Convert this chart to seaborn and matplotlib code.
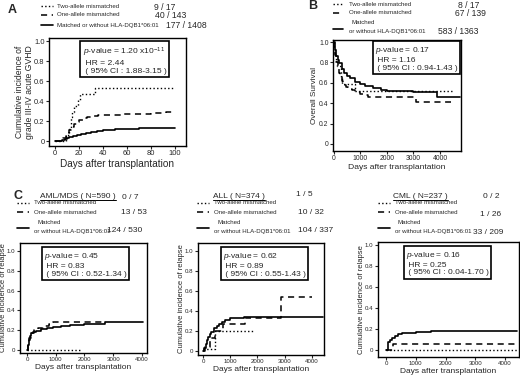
import matplotlib
matplotlib.use("Agg")
import matplotlib.pyplot as plt
import seaborn as sns
from matplotlib.lines import Line2D

sns.set_style("ticks")
plt.rcParams["font.family"] = ["Liberation Sans", "DejaVu Sans"]
plt.rcParams["mathtext.fontset"] = "custom"
plt.rcParams["mathtext.rm"] = "Liberation Sans"
plt.rcParams["mathtext.it"] = "Liberation Sans:italic"

# ---- data ----
# A: cumulative incidence of grade III-IV acute GVHD (days 0-100)
a_two_x = [0, 9, 12, 13, 14, 16, 19, 21, 33, 100]
a_two_y = [0, 0.06, 0.12, 0.24, 0.29, 0.35, 0.41, 0.47, 0.53, 0.53]
a_one_x = [0, 5, 7, 9, 11, 12, 14, 16, 18, 20, 23, 27, 31, 36, 55, 80, 92, 100]
a_one_y = [0, 0.01, 0.03, 0.05, 0.08, 0.11, 0.14, 0.17, 0.19, 0.21, 0.23, 0.24,
           0.25, 0.26, 0.27, 0.28, 0.29, 0.29]
a_mat_x = [0, 6, 8, 10, 12, 15, 18, 22, 26, 30, 35, 40, 50, 60, 70, 100]
a_mat_y = [0, 0.01, 0.02, 0.03, 0.04, 0.05, 0.06, 0.07, 0.08, 0.09, 0.10, 0.11,
           0.12, 0.125, 0.13, 0.13]

# B: overall survival
b_two_x = [0, 30, 60, 100, 140, 270, 290, 310, 800, 4450]
b_two_y = [1.0, 0.94, 0.88, 0.82, 0.76, 0.71, 0.65, 0.59, 0.52, 0.52]
b_one_x = [0, 30, 60, 100, 150, 200, 250, 300, 350, 450, 550, 700, 800, 1000,
           1200, 1300, 3100, 4400]
b_one_y = [1.0, 0.93, 0.87, 0.80, 0.75, 0.70, 0.66, 0.62, 0.58, 0.56, 0.54,
           0.53, 0.51, 0.49, 0.48, 0.46, 0.41, 0.41]
b_mat_x = [0, 50, 100, 150, 200, 300, 400, 500, 600, 800, 1000, 1200, 1500,
           1800, 2000, 2500, 3000, 3500, 3900, 4750]
b_mat_y = [1.0, 0.92, 0.86, 0.82, 0.79, 0.74, 0.70, 0.67, 0.65, 0.61, 0.59,
           0.57, 0.55, 0.53, 0.52, 0.515, 0.51, 0.505, 0.46, 0.46]

# C: cumulative incidence of relapse by disease
aml_two_x = [0, 1900]
aml_two_y = [0, 0]
aml_one_x = [0, 40, 80, 150, 250, 400, 550, 750, 900, 2750]
aml_one_y = [0, 0.06, 0.12, 0.17, 0.20, 0.22, 0.24, 0.26, 0.28, 0.28]
aml_mat_x = [0, 30, 60, 100, 150, 200, 300, 500, 700, 900, 1200, 1500, 2000,
             2700, 4050]
aml_mat_y = [0, 0.05, 0.10, 0.14, 0.17, 0.18, 0.19, 0.21, 0.22, 0.23, 0.24,
             0.25, 0.26, 0.28, 0.28]

all_two_x = [0, 440, 1830]
all_two_y = [0.02, 0.20, 0.20]
all_one_x = [0, 60, 250, 440, 730, 1540, 2860, 4000]
all_one_y = [0, 0.04, 0.13, 0.20, 0.27, 0.33, 0.54, 0.54]
all_mat_x = [0, 50, 100, 150, 200, 250, 300, 400, 500, 600, 700, 800, 1000,
             1500, 2000, 4400]
all_mat_y = [0, 0.03, 0.07, 0.11, 0.14, 0.17, 0.19, 0.23, 0.25, 0.27, 0.29,
             0.31, 0.33, 0.34, 0.345, 0.345]

cml_two_x = [0, 4400]
cml_two_y = [0, 0]
cml_one_x = [0, 240, 4400]
cml_one_y = [0, 0.05, 0.05]
cml_mat_x = [0, 50, 80, 130, 200, 300, 400, 550, 1000, 1500, 4400]
cml_mat_y = [0, 0.03, 0.07, 0.09, 0.11, 0.13, 0.15, 0.16, 0.165, 0.175, 0.175]

groups = ["Two-allele mismatched", "One-allele mismatched",
          "Matched or without HLA-DQB1*06:01"]
a_counts = ["9 / 17", "40 / 143", "177 / 1408"]
b_counts = ["8 / 17", "67 / 139", "583 / 1363"]
aml_counts = ["0 / 7", "13 / 53", "124 / 530"]
all_counts = ["1 / 5", "10 / 32", "104 / 337"]
cml_counts = ["0 / 2", "1 / 26", "33 / 209"]

a_stats = ["$\\it{p}$-value = 1.20 x10$^{-11}$", " HR = 2.44", " ( 95% CI : 1.88-3.15 )"]
b_stats = ["$\\it{p}$-value = 0.17", " HR = 1.16", " ( 95% CI : 0.94-1.43 )"]
aml_stats = ["$\\it{p}$-value = 0.45", " HR = 0.83", " ( 95% CI : 0.52-1.34 )"]
all_stats = ["$\\it{p}$-value = 0.62", " HR = 0.89", " ( 95% CI : 0.55-1.43 )"]
cml_stats = ["$\\it{p}$-value = 0.16", " HR = 0.25", " ( 95% CI : 0.04-1.70 )"]

y_ticks = [0, 0.2, 0.4, 0.6, 0.8, 1.0]
y_ticklabels = ["0", "0.2", "0.4", "0.6", "0.8", "1.0"]

styles = [dict(linestyle=":", linewidth=1.0),
          dict(linestyle=(0, (4, 3)), linewidth=1.1),
          dict(linestyle="-", linewidth=1.2)]

W, H = 520, 377
fig = plt.figure(figsize=(W / 100, H / 100), dpi=100)


def fx(x):
    return x / W


def fy(y):
    return 1 - y / H


def make_axes(l, t, r, b):
    ax = fig.add_axes([fx(l), fy(b), (r - l) / W, (b - t) / H])
    ax.px_box = (l, r)
    return ax


def draw_panel(ax, curves, xlim, ylim, xticks, tick_size, xlab_size):
    for (cx, cy), st in zip(curves, styles):
        sns.lineplot(x=cx, y=cy, ax=ax, color="black", drawstyle="steps-post",
                     estimator=None, sort=False, **st)
    ax.set_xlim(*xlim)
    ax.set_ylim(*ylim)
    ax.set_xticks(xticks)
    ax.set_xticklabels([str(t) for t in xticks])
    ax.set_yticks(y_ticks)
    ax.set_yticklabels(y_ticklabels)
    ax.tick_params(labelsize=tick_size, length=2.2, width=0.8, pad=1.0)
    for sp in ax.spines.values():
        sp.set_linewidth(1.0)
        sp.set_color("black")
    ax.set_xlabel("Days after transplantation", fontsize=xlab_size, labelpad=1)


def place_ylabel(ax, text, size, right_px, **kw):
    # right edge of the rotated label sits at right_px (figure pixels)
    ax.set_ylabel(text, fontsize=size, **kw)
    l, r = ax.px_box
    ax.yaxis.set_label_coords((right_px - l) / (r - l), 0.5)


def legend_line(x0, x1, y, st):
    fig.add_artist(Line2D([fx(x0), fx(x1)], [fy(y), fy(y)], color="black",
                          transform=fig.transFigure, **st))


def put(x, y, s, size, **kw):
    return fig.text(fx(x), fy(y), s, fontsize=size, va="center", ha="left", **kw)


def stats_box(x, y, lines, size):
    fig.text(fx(x), fy(y), "\n".join(lines), fontsize=size, va="top", ha="left",
             linespacing=1.15,
             bbox=dict(boxstyle="square,pad=0.3", fc="white", ec="black", lw=1.2))


# ---- Panel A ----
ax_a = make_axes(49, 38, 186, 146)
draw_panel(ax_a, [(a_two_x, a_two_y), (a_one_x, a_one_y), (a_mat_x, a_mat_y)],
           (-5, 109), (-0.05, 1.03), [0, 20, 40, 60, 80, 100], 5.4, 7.2)
place_ylabel(ax_a, "Cumulative incidence of\ngrade III-IV acute GVHD", 6.2, 34,
             linespacing=1.1)
stats_box(83, 46, a_stats, 6.1)
put(8, 10, "A", 9, fontweight="bold")
for i, yy in enumerate([6, 15, 25]):
    legend_line(41, 53, yy, styles[i])
    put(57, yy, groups[i], 4.4)
put(154, 7, a_counts[0], 6.2)
put(155, 16, a_counts[1], 6.2)
put(166, 26, a_counts[2], 6.2)

# ---- Panel B ----
ax_b = make_axes(333, 40, 461, 151)
draw_panel(ax_b, [(b_two_x, b_two_y), (b_one_x, b_one_y), (b_mat_x, b_mat_y)],
           (-20, 4785), (-0.07, 1.02), [0, 1000, 2000, 3000, 4000], 4.9, 6.1)
place_ylabel(ax_b, "Overall Survival", 5.9, 318)
stats_box(375, 45, b_stats, 6.0)
put(308, 6, "B", 9, fontweight="bold")
legend_line(333, 343, 4, styles[0])
put(349, 4, groups[0], 4.4)
legend_line(333, 343, 13, styles[1])
put(349, 13, groups[1], 4.4)
legend_line(333, 343, 29, styles[2])
put(351, 23, "Matched", 4.4)
put(349, 32, "or without HLA-DQB1*06:01", 4.4)
put(458, 5, b_counts[0], 6.2)
put(455, 14, b_counts[1], 6.2)
put(438, 31, b_counts[2], 6.2)

# ---- Panel C ----
put(14, 196, "C", 9, fontweight="bold")
c_panels = [
    ("AML/MDS ( N=590 )", (20, 243, 147, 353), (-243, 4174), (-0.03, 1.08),
     [(aml_two_x, aml_two_y), (aml_one_x, aml_one_y), (aml_mat_x, aml_mat_y)],
     aml_counts, aml_stats),
    ("ALL ( N=374 )", (198, 243, 324, 355), (-183, 4440), (-0.04, 1.08),
     [(all_two_x, all_two_y), (all_one_x, all_one_y), (all_mat_x, all_mat_y)],
     all_counts, all_stats),
    ("CML ( N=237 )", (378, 242, 519, 357), (-270, 4470), (-0.07, 1.03),
     [(cml_two_x, cml_two_y), (cml_one_x, cml_one_y), (cml_mat_x, cml_mat_y)],
     cml_counts, cml_stats),
]
count_pos = [
    [(122, 198), (121, 213), (107, 231)],
    [(296, 195), (298, 213), (298, 231)],
    [(483, 196), (480, 215), (473, 232)],
]
header_x = [40, 213, 393]
legend_x = [17, 197, 378]
ylabel_right = [7, 185, 365]
box_off = [24, 25, 28]
headers = []
for k, (title, box, xlim, ylim, curves, counts, stats) in enumerate(c_panels):
    ax = make_axes(*box)
    draw_panel(ax, curves, xlim, ylim, [0, 1000, 2000, 3000, 4000], 4.4, 6.0)
    place_ylabel(ax, "Cumulative incidence of relapse", 5.5, ylabel_right[k])
    l, t = box[0], box[1]
    stats_box(l + box_off[k], t + 8, stats, 6.0)
    headers.append(put(header_x[k], 196, title, 6.0))
    lx = legend_x[k]
    tx = lx + 17
    legend_line(lx, lx + 12, 203, styles[0])
    put(tx, 203, groups[0], 4.4)
    legend_line(lx, lx + 12, 212, styles[1])
    put(tx, 212, groups[1], 4.4)
    legend_line(lx, lx + 12, 228, styles[2])
    put(tx + 3, 222, "Matched", 4.4)
    put(tx, 231, "or without HLA-DQB1*06:01", 4.4)
    for c, (cx, cy) in zip(counts, count_pos[k]):
        put(cx, cy, c, 6.0)

# underline the disease headers
renderer = fig.canvas.get_renderer()
for t in headers:
    bb = t.get_window_extent(renderer)
    w_px, h_px = fig.bbox.width, fig.bbox.height
    fig.add_artist(Line2D([bb.x0 / w_px, bb.x1 / w_px], [(bb.y0 - 0.2) / h_px] * 2,
                          color="black", lw=0.7, transform=fig.transFigure))

fig.savefig("out.png", dpi=100)
